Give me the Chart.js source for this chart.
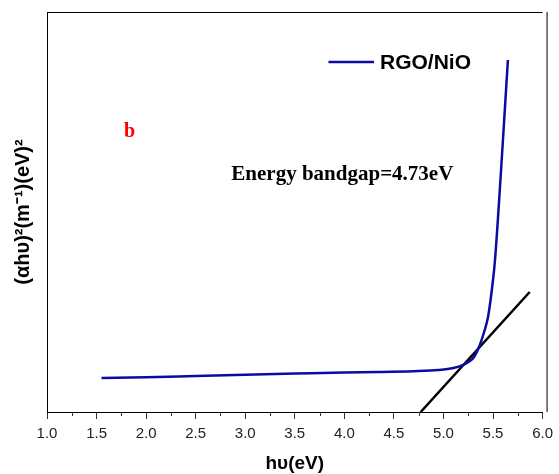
<!DOCTYPE html>
<html>
<head>
<meta charset="utf-8">
<script src="https://cdn.jsdelivr.net/npm/chart.js@4/dist/chart.umd.min.js"></script>
<style>
html,body{margin:0;padding:0;background:#fff;}
#wrap{width:559px;height:474px;}
</style>
</head>
<body>
<div id="wrap"><canvas id="c" width="559" height="474"></canvas></div>
<script>
// ---- data ----
const photonEnergy = [1.55, 2.0, 2.5, 3.0, 3.5, 4.0, 4.34, 4.7, 4.95, 5.1, 5.2, 5.27, 5.31, 5.36, 5.41, 5.45, 5.5, 5.52, 5.58, 5.65];
const absorption   = [8.5, 8.7, 9.0, 9.3, 9.6, 9.9, 10.0, 10.2, 10.5, 11.0, 11.8, 12.8, 13.8, 16.3, 20.0, 23.8, 33.0, 38.0, 60.0, 88.0];
const tangentX = [4.77, 5.87];
const tangentY = [0, 30];
const xTicks = [1.0, 1.5, 2.0, 2.5, 3.0, 3.5, 4.0, 4.5, 5.0, 5.5, 6.0];
const seriesLabel = 'RGO/NiO';
const panelLabel = 'b';
const gapLabel = 'Energy bandgap=4.73eV';

const curvePts = photonEnergy.map((x, i) => ({x, y: absorption[i]}));
const tangentPts = tangentX.map((x, i) => ({x, y: tangentY[i]}));

const decor = {
  id: 'decor',
  afterDraw(chart) {
    const ctx = chart.ctx, a = chart.chartArea;
    const xs = chart.scales.x, ys = chart.scales.y;
    ctx.save();
    // top and right frame
    ctx.strokeStyle = '#000';
    ctx.lineWidth = 1;
    ctx.beginPath();
    ctx.moveTo(a.left, a.top + 0.5);
    ctx.lineTo(a.right, a.top + 0.5);
    ctx.moveTo(a.right + 4.5, a.top);
    ctx.lineTo(a.right + 4.5, a.bottom);
    ctx.stroke();
    // minor ticks
    ctx.strokeStyle = '#333';
    for (let v = 1.25; v < 6; v += 0.5) {
      const px = Math.round(xs.getPixelForValue(v)) + 0.5;
      ctx.beginPath();
      ctx.moveTo(px, a.bottom);
      ctx.lineTo(px, a.bottom + 4);
      ctx.stroke();
    }
    // legend
    const ds = chart.data.datasets[0];
    const ly = ys.getPixelForValue(87.5);
    ctx.strokeStyle = ds.borderColor;
    ctx.lineWidth = 2.5;
    ctx.beginPath();
    ctx.moveTo(xs.getPixelForValue(3.84), ly);
    ctx.lineTo(xs.getPixelForValue(4.30), ly);
    ctx.stroke();
    ctx.fillStyle = '#000';
    ctx.font = 'bold 21px "Liberation Sans", Arial, sans-serif';
    ctx.textBaseline = 'middle';
    ctx.textAlign = 'left';
    ctx.fillText(ds.label, xs.getPixelForValue(4.36), ly + 1);
    // annotations
    ctx.textBaseline = 'alphabetic';
    ctx.font = 'bold 20px "Liberation Serif", "Times New Roman", serif';
    ctx.fillStyle = '#ff0000';
    ctx.fillText(panelLabel, xs.getPixelForValue(1.778), ys.getPixelForValue(68.75));
    ctx.fillStyle = '#000';
    ctx.font = 'bold 21px "Liberation Serif", "Times New Roman", serif';
    ctx.fillText(gapLabel, xs.getPixelForValue(2.86), ys.getPixelForValue(58));
    ctx.restore();
  }
};

new Chart(document.getElementById('c'), {
  type: 'scatter',
  data: {
    datasets: [
      {
        label: seriesLabel,
        data: curvePts,
        showLine: true,
        borderColor: '#0a0aa5',
        backgroundColor: '#0a0aa5',
        borderWidth: 2.5,
        pointRadius: 0,
        cubicInterpolationMode: 'monotone'
      },
      {
        label: 'tangent',
        data: tangentPts,
        showLine: true,
        borderColor: '#000',
        backgroundColor: '#000',
        borderWidth: 2.5,
        pointRadius: 0
      }
    ]
  },
  options: {
    responsive: false,
    animation: false,
    devicePixelRatio: 1,
    layout: {padding: {top: 12, right: 12, left: 0, bottom: 0}},
    plugins: {legend: {display: false}, tooltip: {enabled: false}},
    scales: {
      x: {
        type: 'linear',
        min: 1.0,
        max: 6.0,
        afterFit(s) { s.height = 62; },
        afterBuildTicks(s) { s.ticks = xTicks.map(v => ({value: v})); },
        ticks: {
          color: '#222',
          font: {family: '"Liberation Sans", Arial, sans-serif', size: 15},
          padding: 6,
          maxRotation: 0,
          autoSkip: false,
          callback: v => Number(v).toFixed(1)
        },
        grid: {drawOnChartArea: false, tickLength: 7, color: '#333', tickColor: '#333'},
        border: {display: true, color: '#000', width: 1},
        title: {
          display: true,
          text: 'hυ(eV)',
          color: '#000',
          font: {family: '"Liberation Sans", Arial, sans-serif', size: 19, weight: 'bold'},
          padding: {top: 0, bottom: -1}
        }
      },
      y: {
        type: 'linear',
        min: 0,
        max: 100,
        afterFit(s) { s.width = 47; },
        ticks: {display: false},
        grid: {display: false, drawTicks: false},
        border: {display: true, color: '#000', width: 1},
        title: {
          display: true,
          text: '(αhυ)²(m⁻¹)(eV)²',
          color: '#000',
          font: {family: '"Liberation Sans", Arial, sans-serif', size: 20, weight: 'bold'},
          padding: {top: 11, bottom: 0}
        }
      }
    }
  },
  plugins: [decor]
});
</script>
</body>
</html>
